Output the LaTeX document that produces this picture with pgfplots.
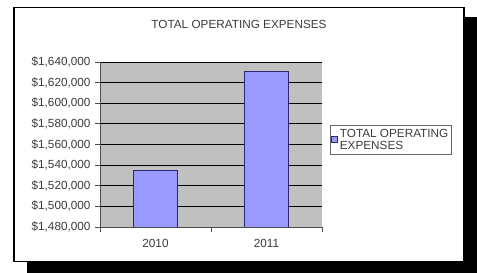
\documentclass[border=0pt]{standalone}
\usepackage{fontspec}
\setmainfont{Liberation Sans}
\usepackage{pgfplots}
\pgfplotsset{compat=1.18}
\definecolor{barfill}{RGB}{153,153,255}
\definecolor{baredge}{RGB}{40,40,110}
\definecolor{plotbg}{RGB}{192,192,192}
\definecolor{txt}{RGB}{60,60,60}
\newcommand{\lf}{\fontsize{11.8}{12.5}\selectfont}
\begin{document}
\begin{tikzpicture}
\useasboundingbox (0bp,0bp) rectangle (477bp,273bp);
\fill[black] (27bp,0bp) rectangle (477bp,256bp);
\draw[black, line width=1.6bp, fill=white] (13.8bp,11.5bp) rectangle (464.2bp,265.5bp);
\node[txt, font=\lf] at (239bp,249bp) {TOTAL OPERATING EXPENSES};
\begin{axis}[
  at={(100bp,46bp)}, anchor=south west,
  width=222bp, height=165bp, scale only axis,
  xmin=-0.5, xmax=1.5,
  ymin=1480000, ymax=1640000,
  scaled y ticks=false,
  ytick={1480000,1500000,1520000,1540000,1560000,1580000,1600000,1620000,1640000},
  yticklabel={\$\pgfmathprintnumber{\tick}},
  /pgf/number format/.cd, fixed, 1000 sep={,}, assume math mode=true,
  /pgfplots/.cd,
  xtick={-0.5,0.5,1.5},
  x tick label as interval,
  xticklabels={2010,2011},
  axis x line*=bottom, axis y line*=left,
  axis line style={black!70, line width=0.8bp, -},
  tick align=outside,
  major tick length=5bp,
  tick style={black!70, line width=0.8bp},
  ymajorgrids,
  grid style={black, line width=0.8bp},
  axis background/.style={fill=plotbg},
  tick label style={font=\lf, txt},
  yticklabel style={xshift=-1bp},
  xticklabel style={yshift=-4bp},
  ybar, bar width=44bp, bar shift=0pt,
  legend style={at={(1.036,0.618)}, anchor=north west, draw=black!60, line width=0.8bp,
    font=\lf, text=txt, nodes={align=left}, inner xsep=1bp, inner ysep=1.5bp, row sep=0pt},
  legend image code/.code={\draw[#1, line width=0.5bp] (0bp,-2.5bp) rectangle (6bp,3.5bp);},
]
\addplot[fill=barfill, draw=baredge, line width=0.8bp] coordinates {(0,1535000) (1,1631000)};
\addlegendentry{TOTAL OPERATING\\EXPENSES}
\end{axis}
\end{tikzpicture}
\end{document}
